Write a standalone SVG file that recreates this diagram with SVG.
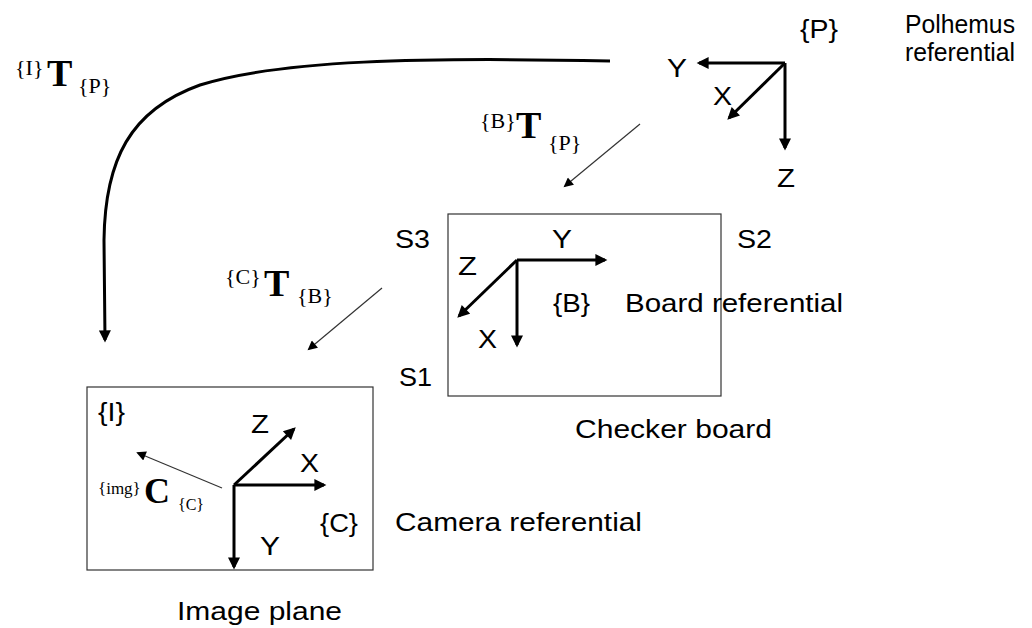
<svg xmlns="http://www.w3.org/2000/svg" width="1032" height="628" viewBox="0 0 1032 628">
<style>
.t{font-family:"Liberation Sans",Arial,sans-serif;font-size:25px;fill:#000}
.m{font-family:"Liberation Serif","Times New Roman",serif;fill:#000}
.sup{font-size:22px}
.big{font-size:38px;font-weight:bold}
.ax{stroke:#000;stroke-width:3;fill:none;marker-end:url(#ah)}
.thin{stroke:#333;stroke-width:1.2;fill:none;marker-end:url(#ahs)}
.box{fill:none;stroke:#333;stroke-width:1.2}
</style>
<defs>
<marker id="ah" viewBox="0 0 10 10" refX="8" refY="5" markerWidth="4.5" markerHeight="4" orient="auto" markerUnits="strokeWidth">
<path d="M0,0 L10,5 L0,10 z" fill="#000"/>
</marker>
<marker id="ahs" viewBox="0 0 10 10" refX="8" refY="5" markerWidth="11" markerHeight="8" orient="auto" markerUnits="strokeWidth">
<path d="M0,0 L10,5 L0,10 z" fill="#000"/>
</marker>
</defs>
<rect width="1032" height="628" fill="#fff"/>
<g id="connectors">
<path class="ax" d="M610,61 C420,57 280,60 200,85 C130,110 105,160 104,240 L105,340"/>
<line class="thin" x1="640" y1="124" x2="565" y2="186"/>
<line class="thin" x1="382" y1="288" x2="309" y2="349"/>
<line class="thin" x1="222" y1="488" x2="138" y2="453"/>
</g>
<g id="polhemus">
<line class="ax" x1="785" y1="63" x2="699" y2="63"/>
<line class="ax" x1="785" y1="63" x2="729" y2="118"/>
<line class="ax" x1="785" y1="63" x2="785" y2="148"/>
<text class="t" x="667" y="77" textLength="20" lengthAdjust="spacingAndGlyphs">Y</text>
<text class="t" x="713" y="105" textLength="19" lengthAdjust="spacingAndGlyphs">X</text>
<text class="t" x="777" y="187" textLength="18" lengthAdjust="spacingAndGlyphs">Z</text>
<text class="t" x="800" y="38" textLength="38" lengthAdjust="spacingAndGlyphs">{P}</text>
<text class="t" x="905" y="33" textLength="110" lengthAdjust="spacingAndGlyphs">Polhemus</text>
<text class="t" x="905" y="61" textLength="110" lengthAdjust="spacingAndGlyphs">referential</text>
</g>
<g id="board">
<rect class="box" x="448" y="214" width="273" height="182"/>
<line class="ax" x1="517" y1="260" x2="605" y2="260"/>
<line class="ax" x1="517" y1="260" x2="459" y2="316"/>
<line class="ax" x1="517" y1="260" x2="517" y2="345"/>
<text class="t" x="552" y="248" textLength="20" lengthAdjust="spacingAndGlyphs">Y</text>
<text class="t" x="458" y="275" textLength="19" lengthAdjust="spacingAndGlyphs">Z</text>
<text class="t" x="478" y="348" textLength="19" lengthAdjust="spacingAndGlyphs">X</text>
<text class="t" x="553" y="312" textLength="37" lengthAdjust="spacingAndGlyphs">{B}</text>
<text class="t" x="625" y="312" textLength="218" lengthAdjust="spacingAndGlyphs">Board referential</text>
<text class="t" x="395" y="248" textLength="35" lengthAdjust="spacingAndGlyphs">S3</text>
<text class="t" x="737" y="248" textLength="35" lengthAdjust="spacingAndGlyphs">S2</text>
<text class="t" x="399" y="386" textLength="33" lengthAdjust="spacingAndGlyphs">S1</text>
<text class="t" x="575" y="438" textLength="197" lengthAdjust="spacingAndGlyphs">Checker board</text>
</g>
<g id="image">
<rect class="box" x="87" y="387" width="286" height="183"/>
<line class="ax" x1="234" y1="485" x2="294" y2="429"/>
<line class="ax" x1="234" y1="485" x2="324" y2="485"/>
<line class="ax" x1="234" y1="485" x2="234" y2="567"/>
<text class="t" x="251" y="433" textLength="18" lengthAdjust="spacingAndGlyphs">Z</text>
<text class="t" x="300" y="472" textLength="19" lengthAdjust="spacingAndGlyphs">X</text>
<text class="t" x="260" y="555" textLength="20" lengthAdjust="spacingAndGlyphs">Y</text>
<text class="t" x="320" y="532" textLength="38" lengthAdjust="spacingAndGlyphs">{C}</text>
<text class="t" x="98" y="421" textLength="27" lengthAdjust="spacingAndGlyphs">{I}</text>
<text class="t" x="395" y="531" textLength="247" lengthAdjust="spacingAndGlyphs">Camera referential</text>
<text class="t" x="177" y="620" textLength="165" lengthAdjust="spacingAndGlyphs">Image plane</text>
</g>
<g id="labels">
<text class="m"><tspan class="sup" x="15" y="75">{I}</tspan><tspan class="big" x="47" y="86">T</tspan><tspan class="sup" x="78" y="93">{P}</tspan></text>
<text class="m"><tspan class="sup" x="480" y="128">{B}</tspan><tspan class="big" x="516" y="138">T</tspan><tspan class="sup" x="548" y="150">{P}</tspan></text>
<text class="m"><tspan class="sup" x="225" y="284">{C}</tspan><tspan class="big" x="264" y="296">T</tspan><tspan class="sup" x="297" y="303">{B}</tspan></text>
<text class="m"><tspan font-size="17" x="98" y="494">{img}</tspan><tspan font-size="36" font-weight="bold" x="144" y="503">C</tspan><tspan font-size="16" x="178" y="510">{C}</tspan></text>
</g>
</svg>
